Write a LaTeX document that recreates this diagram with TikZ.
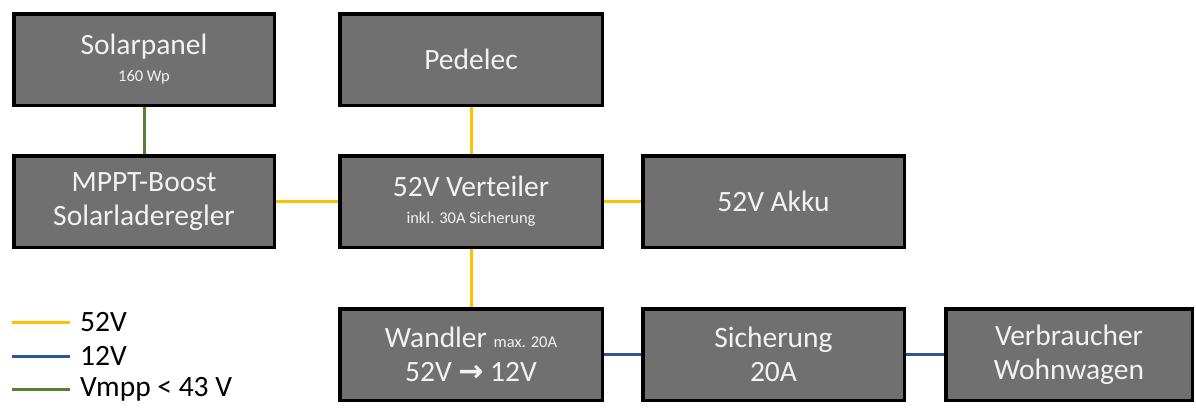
\documentclass[tikz,border=0pt]{standalone}
\usepackage{fontspec}
\setmainfont{Carlito}
\newfontfamily\symfont{DejaVu Sans}
\definecolor{boxgray}{HTML}{707070}
\definecolor{txt}{HTML}{F2F2F2}
\definecolor{y52}{HTML}{FFC000}
\definecolor{b12}{HTML}{2F5597}
\definecolor{gmpp}{HTML}{548235}
\newcommand{\bigtxt}{\fontsize{29.5}{34}\selectfont}
\newcommand{\smalltxt}{\fontsize{16.5}{18}\selectfont}
\begin{document}
\begin{tikzpicture}[x=1pt,y=-1pt,
  blk/.style={draw=black,line width=3.5pt,fill=boxgray,text=txt,align=center,
    minimum height=91.5pt,inner sep=0pt,font=\bigtxt},
  wire/.style={line width=3pt},
  leg/.style={anchor=west,inner sep=0pt,font=\bigtxt,text=black}]
\useasboundingbox (0,0) rectangle (1196,407);
\node[blk,minimum width=260.5pt] (solar) at (144,59.5) {Solarpanel\\[-7pt]{\smalltxt 160 Wp}};
\node[blk,minimum width=260.5pt] (mppt) at (144,201.5) {MPPT-Boost\\Solarladeregler};
\node[blk,minimum width=262.5pt] (ped) at (471,59.5) {Pedelec};
\node[blk,minimum width=262.5pt] (vert) at (471,201.5) {52V Verteiler\\[-7pt]{\smalltxt inkl. 30A Sicherung}};
\node[blk,minimum width=261.5pt] (akku) at (773.5,201.5) {52V Akku};
\node[blk,minimum width=262.5pt] (wand) at (471,354.5) {Wandler {\smalltxt max. 20A}\\52V {\symfont\bfseries\fontsize{30}{34}\selectfont →} 12V};
\node[blk,minimum width=261.5pt] (sich) at (773.5,354.5) {Sicherung\\20A};
\node[blk,minimum width=246.5pt] (verb) at (1069,354.5) {Verbraucher\\Wohnwagen};
\draw[wire,gmpp] (solar.south) -- (mppt.north);
\draw[wire,y52] (mppt.east) -- (vert.west);
\draw[wire,y52] (vert.east) -- (akku.west);
\draw[wire,y52] (ped.south) -- (vert.north);
\draw[wire,y52] (vert.south) -- (wand.north);
\draw[wire,b12] (wand.east) -- (sich.west);
\draw[wire,b12] (sich.east) -- (verb.west);
% legend
\coordinate (l1a) at (12,322); \coordinate (l1b) at (70,322);
\coordinate (l2a) at (12,356); \coordinate (l2b) at (70,356);
\coordinate (l3a) at (12,389); \coordinate (l3b) at (70,389);
\draw[wire,y52] (l1a) -- (l1b);
\draw[wire,b12] (l2a) -- (l2b);
\draw[wire,gmpp] (l3a) -- (l3b);
\node[leg] (t1) at (80,322) {52V};
\node[leg] (t2) at (80,356) {12V};
\node[leg] (t3) at (80,389) {Vmpp < 43 V};
\end{tikzpicture}
\end{document}
